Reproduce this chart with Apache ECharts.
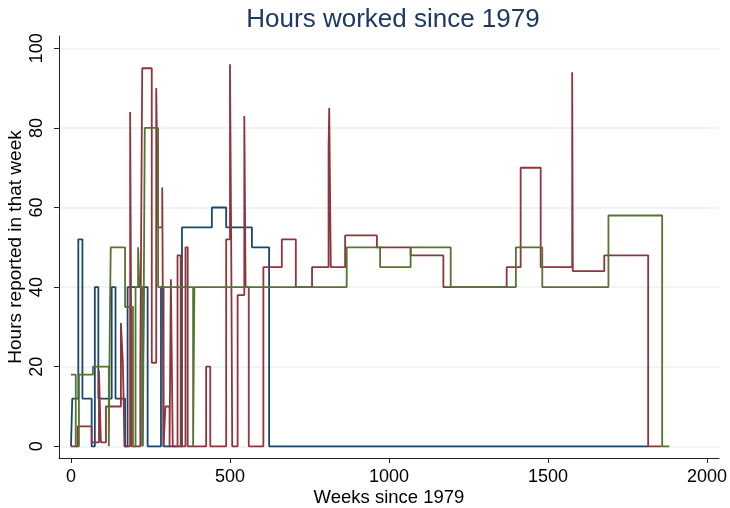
<!DOCTYPE html>
<html>
<head>
<meta charset="utf-8">
<script src="https://cdn.jsdelivr.net/npm/echarts@6/dist/echarts.min.js"></script>
<style>
  html, body { margin: 0; padding: 0; background: #ffffff; }
  #chart { width: 730px; height: 508px; }
</style>
</head>
<body>
<div id="chart"></div>
<script>
// Weekly hours for three people, stored as change points:
// each hours value holds from its week until the next listed week.
const blueWeeks = [0, 4, 23, 36, 65, 75, 86, 128, 140, 170, 178, 224, 229, 241, 283, 291, 349, 443, 488, 569, 623, 1815];
const blueHours = [0, 12, 52, 12, 0, 40, 12, 40, 12, 0, 40, 0, 40, 0, 40, 0, 55, 60, 55, 50, 0, 0];

const redWeeks = [0, 21, 65, 88, 94, 110, 157, 163, 166, 168, 186, 191, 218, 224, 254, 268, 274, 287, 291, 297,
                  310, 314, 320, 335, 345, 360, 367, 425, 438, 488, 500, 504, 507, 524, 545, 549, 559, 605, 663, 707,
                  758, 810, 812, 817, 862, 962, 1068, 1171, 1370, 1414, 1477, 1576, 1578, 1677, 1815, 1857];
const redHours = [0, 5, 1, 19, 1, 10, 31, 21, 10, 0, 84, 0, 21, 95, 21, 90, 55, 65, 0, 10,
                  0, 42, 0, 48, 0, 50, 0, 20, 0, 52, 96, 48, 0, 38, 83, 40, 0, 45, 52, 40,
                  45, 75, 85, 45, 53, 50, 48, 40, 45, 70, 45, 94, 44, 48, 0, 0];

const greenWeeks = [0, 15, 25, 69, 119, 122, 125, 170, 195, 203, 211, 215, 226, 232, 274, 384, 388, 867, 972, 1068,
                    1194, 1399, 1482, 1690, 1859, 1881];
const greenHours = [18, 0, 18, 20, 0, 30, 50, 35, 0, 40, 50, 40, 0, 80, 40, 0, 40, 50, 45, 50,
                    40, 50, 40, 58, 0, 0];

const xTicks = [0, 500, 1000, 1500, 2000];
const yTicks = [0, 20, 40, 60, 80, 100];

const FONT = '"Liberation Sans", Arial, Helvetica, sans-serif';

function pairs(weeks, hours) {
  return weeks.map((w, i) => [w, hours[i]]);
}

function stepSeries(name, color, weeks, hours) {
  return {
    name: name,
    type: 'line',
    step: 'end',
    showSymbol: false,
    symbol: 'none',
    silent: true,
    animation: false,
    lineStyle: { color: color, width: 1.8 },
    data: pairs(weeks, hours)
  };
}

const chart = echarts.init(document.getElementById('chart'), null, { renderer: 'canvas' });

chart.setOption({
  backgroundColor: '#ffffff',
  animation: false,
  title: {
    text: 'Hours worked since 1979',
    left: 388,
    top: 2,
    textAlign: 'center',
    textStyle: { fontFamily: FONT, fontSize: 26, fontWeight: 'normal', color: '#1e3764' }
  },
  grid: { left: 59, right: 11, top: 36, bottom: 50, containLabel: false, outerBoundsMode: 'none' },
  xAxis: {
    type: 'value',
    min: -37.7,
    max: 2037.7,
    name: 'Weeks since 1979',
    nameLocation: 'middle',
    nameGap: 30,
    nameMoveOverlap: false,
    nameTextStyle: { fontFamily: FONT, fontSize: 18.5, color: '#000' },
    axisLine: { show: true, onZero: false, lineStyle: { color: '#222', width: 1 } },
    axisTick: { show: true, length: 5, customValues: xTicks, lineStyle: { color: '#222', width: 1 } },
    axisLabel: {
      customValues: xTicks, margin: 10, fontFamily: FONT, fontSize: 18, color: '#000',
      formatter: v => String(v)
    },
    splitLine: { show: false }
  },
  yAxis: {
    type: 'value',
    min: -2.94,
    max: 103.1,
    name: 'Hours reported in that week',
    nameLocation: 'middle',
    nameGap: 34,
    nameMoveOverlap: false,
    nameTextStyle: { fontFamily: FONT, fontSize: 19, color: '#000' },
    axisLine: { show: true, onZero: false, lineStyle: { color: '#222', width: 1 } },
    axisTick: { show: true, length: 5, customValues: yTicks, lineStyle: { color: '#222', width: 1 } },
    axisLabel: {
      customValues: yTicks, rotate: 90, margin: 13, fontFamily: FONT, fontSize: 18, color: '#000',
      formatter: v => String(v)
    },
    splitLine: { show: true, lineStyle: { color: '#eaf2f3', width: 1.5 } }
  },
  series: [
    stepSeries('Person 1', '#1a476f', blueWeeks, blueHours),
    stepSeries('Person 2', '#90353b', redWeeks, redHours),
    stepSeries('Person 3', '#55752f', greenWeeks, greenHours)
  ]
});
</script>
</body>
</html>
